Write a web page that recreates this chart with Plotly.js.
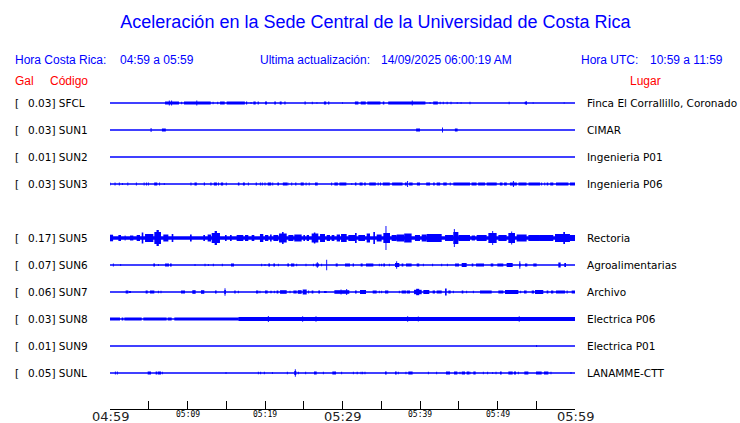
<!DOCTYPE html>
<html><head><meta charset="utf-8">
<script src="https://cdn.plot.ly/plotly-3.0.1.min.js"></script>
<style>html,body{margin:0;padding:0;background:#fff;overflow:hidden}#chart{width:740px;height:423px}</style>
</head><body><div id="chart"></div>
<script>
// ---------- data ----------
const stations = ['SFCL','SUN1','SUN2','SUN3','SUN5','SUN6','SUN7','SUN8','SUN9','SUNL'];
const peakGal  = ['0.03','0.03','0.01','0.03','0.17','0.07','0.06','0.03','0.01','0.05'];
const places   = ['Finca El Corrallillo, Coronado','CIMAR','Ingenieria P01','Ingenieria P06','Rectoria','Agroalimentarias','Archivo','Electrica P06','Electrica P01','LANAMME-CTT'];
const rowIndex = [0,1,2,3,5,6,7,8,9,10];
const tickMinutes = [0,5,10,15,20,25,30,35,40,45,50,55,60];
const labelMinutes = [0,10,20,30,40,50,60];
const labelTexts = ['04:59','05:09','05:19','05:29','05:39','05:49','05:59'];
const majorLabel = [true,false,false,true,false,false,true];

// bursts: [start minute, end minute, relative amplitude]
const burstsSFCL = [[7.1,8.9,1.5],[7.6,7.7,2.5],[7.9,8.0,2.5],[9.2,9.3,1.2],[9.55,13.0,1.5],[11.15,11.25,2.5],[13.3,13.3,1.2],[13.9,13.9,1.2],[14.2,14.8,1.5],[15.05,17.4,1.5],[17.55,17.7,1.5],[18.2,18.2,1],[18.5,18.8,1.5],[19.05,19.2,1.5],[20.0,20.26,1.5],[21.2,21.4,1.5],[21.9,22.15,1.5],[22.5,22.65,1.5],[25.1,25.25,1.5],[26.1,26.1,1.2],[26.7,26.7,0.8],[27.6,27.9,1.5],[28.15,28.3,1.5],[30.0,30.0,0.8],[31.6,32.05,1.5],[32.35,33.0,1.5],[33.2,34.9,1.5],[35.2,35.4,1.5],[35.9,40.7,1.5],[38.95,39.05,2.5],[41.3,41.3,1],[41.7,42.3,1.5],[42.6,42.6,1.2],[43.0,43.0,1.2],[43.5,43.5,1.2],[44.0,44.0,1.2],[44.8,44.8,0.8],[45.3,45.3,0.8],[46.45,46.45,1.2],[51.5,51.5,1.2],[53.5,53.8,1.2],[53.7,53.7,2],[54.6,54.6,0.8],[58.6,58.6,0.8]];
const burstsSUN1 = [[5.3,5.3,2],[6.7,7.2,1.5],[39.5,40.0,1.5],[42.9,42.9,2.5],[44.5,44.85,1.5]];
const burstsSUN2 = [];
const burstsSUN3 = [[0.0,0.0,1.5],[0.65,0.65,1.5],[1.2,1.2,1.5],[1.6,1.6,1],[2.3,2.3,1.5],[3.4,3.4,1.5],[4.4,4.4,1.5],[4.7,4.7,1.5],[4.95,4.95,1.5],[5.7,6.1,1.5],[6.4,6.4,1.5],[7.0,7.0,1],[10.45,10.45,1.5],[10.9,11.2,1.5],[12.1,12.25,1.5],[12.95,13.1,1.5],[13.4,13.8,1.5],[14.0,14.0,1.5],[14.3,14.6,1.5],[15.0,15.0,1.5],[16.5,16.7,1.5],[17.15,17.4,1.5],[17.85,17.85,1.5],[18.8,18.95,1.5],[19.4,19.4,1.5],[19.65,19.65,1.5],[20.0,20.0,1.5],[20.35,20.8,1.5],[21.0,21.0,1.5],[21.6,21.8,1.5],[22.3,22.85,1.5],[22.95,22.95,1.5],[23.45,23.45,1.5],[23.9,24.05,1.5],[24.6,25.0,1.5],[25.3,25.3,1.5],[25.7,25.7,1.5],[26.45,26.8,1.5],[28.6,28.6,1.5],[28.95,29.4,1.5],[29.6,30.5,1.5],[31.2,31.2,1],[31.6,31.8,1.5],[32.2,32.6,1.5],[32.8,33.0,1.5],[33.45,34.3,1.5],[34.6,34.6,1.5],[34.9,34.9,1.5],[35.2,36.1,1.5],[36.4,37.75,1.5],[38.05,38.3,1.5],[38.4,38.4,3],[38.6,39.05,1.5],[39.6,40.0,1.5],[40.8,41.3,1.5],[41.7,41.9,1.5],[42.15,42.6,1.5],[43.0,43.45,1.5],[43.9,43.9,1.5],[44.3,46.45,1.5],[46.65,47.3,1.5],[47.5,48.4,1.5],[48.6,49.9,1.5],[50.3,50.65,1.5],[50.85,51.2,1.5],[51.6,52.5,1.5],[52.05,52.05,3],[52.7,53.75,1.5],[54.0,55.5,1.5],[55.7,55.7,1.5],[56.1,56.1,1.5],[56.35,56.55,1.5],[56.8,57.2,1.5],[57.55,59.15,1.5],[59.35,60.0,1.5]];
const burstsSUN5 = [[0,60,1.7],[0.0,0.4,3.3],[1.08,1.42,3],[1.9,2.0,2.5],[2.58,3.01,2.5],[3.44,3.87,3],[4.09,4.3,5.5],[4.52,5.59,4],[5.72,6.58,6],[6.0,6.3,8],[6.88,7.53,3.5],[7.96,8.17,4],[10.32,10.54,3.5],[12.04,12.26,3],[12.6,13.03,3.5],[13.12,14.19,5],[13.5,13.8,7],[14.84,15.05,3],[15.48,15.7,3],[16.34,17.2,3],[17.42,17.85,3],[18.28,18.62,3],[19.35,19.78,4],[20.0,20.43,3],[20.65,20.86,3.5],[21.08,21.72,3],[21.81,22.8,4.5],[22.2,22.4,6],[23.01,23.66,3],[23.78,24.73,3.5],[24.95,25.16,3],[25.38,25.68,3],[26.02,26.88,4.5],[26.3,26.5,5.5],[27.1,27.74,4],[27.96,28.39,3],[28.6,28.95,3],[29.25,29.68,3.5],[29.81,30.54,4],[30.75,31.61,3],[31.61,31.83,5],[32.04,32.9,3],[33.12,33.55,4.5],[33.98,34.19,6],[34.41,35.05,3.5],[35.27,36.13,5],[35.55,35.67,12],[36.34,36.99,3],[36.99,37.96,3.5],[37.96,38.92,4.5],[39.35,40.0,3],[40.22,40.86,3.5],[40.86,42.8,4],[43.23,44.3,3],[44.3,44.95,6],[44.38,44.48,9],[44.95,46.45,3],[46.67,47.1,2.5],[47.31,48.6,3],[48.82,49.89,5],[49.33,49.43,7],[50.11,51.18,3],[51.4,52.26,5],[51.78,51.88,6.5],[52.47,53.76,3.5],[53.98,55.48,3],[55.48,57.2,3],[57.42,59.35,4],[58.49,58.71,6],[59.35,60.0,3]];
const burstsSUN6 = [[0.43,0.43,1.5],[1.38,1.38,1],[5.59,5.81,1.5],[6.24,6.24,1],[7.1,7.61,1.5],[7.74,7.96,1.5],[10.97,10.97,1],[12.26,12.26,1.3],[12.69,12.69,1],[13.33,13.33,1.3],[14.49,14.49,1.3],[15.61,16.0,1.5],[19.57,19.57,1.3],[20.0,20.0,1],[20.43,20.65,1.5],[21.08,21.29,1.5],[21.72,21.72,1.3],[22.88,23.1,1.5],[23.35,23.78,1.5],[24.09,24.09,1.2],[25.29,25.29,1.2],[26.24,26.24,1.2],[26.54,26.97,1.5],[26.7,26.8,2.8],[27.31,27.31,1.3],[27.96,27.96,5.3],[29.12,29.38,1.5],[30.32,30.97,1.5],[31.31,31.48,1.5],[32.34,32.6,1.5],[33.03,33.98,1.5],[34.75,34.75,1.2],[35.05,35.05,1.2],[35.27,35.48,1.5],[36.04,36.04,1.2],[36.77,37.33,2],[36.99,36.99,3.7],[37.63,37.85,1.5],[38.19,38.92,1.5],[39.57,39.91,1.5],[40.43,40.43,1.2],[41.63,41.63,1.2],[42.8,42.8,1.2],[43.53,43.53,1.2],[44.52,45.03,1.5],[45.38,46.02,2],[46.67,46.88,1.5],[47.23,48.26,1.5],[49.12,49.46,1.5],[49.98,50.75,1.5],[51.18,51.96,2],[52.77,52.99,1.5],[52.88,52.88,3.7],[53.55,53.85,1.5],[54.62,55.05,1.5],[57.85,58.15,2.5],[58.62,58.84,2]];
const burstsSUN7 = [[2.02,2.37,1.5],[2.45,2.71,1],[4.6,4.86,1.5],[5.16,5.72,1.5],[6.24,6.24,1.2],[6.58,6.58,1.2],[9.16,9.68,1.5],[10.62,11.05,1.8],[11.74,12.17,1.8],[13.55,13.76,1.5],[14.75,14.95,2],[14.84,14.84,3.8],[16.04,16.21,1.5],[16.56,16.56,1.2],[18.84,19.14,1.5],[19.35,19.35,1.2],[20.0,20.34,1.5],[20.69,20.86,1.2],[21.2,21.2,1.2],[21.5,21.72,1.5],[21.94,22.8,1.8],[23.23,23.23,1.2],[23.66,24.09,1.5],[24.22,24.73,1.8],[24.86,25.38,2.5],[25.59,25.68,1.5],[26.02,26.24,1.5],[26.88,27.1,1.5],[27.61,27.96,1],[28.95,30.88,1.8],[29.81,29.81,2.5],[30.54,30.54,3],[31.61,31.83,1.5],[32.26,33.03,2],[33.89,34.41,1.5],[34.75,34.75,1.2],[35.05,35.05,1.2],[35.48,35.91,1.5],[37.33,37.33,1.2],[37.63,38.19,1.5],[38.28,38.71,1.5],[39.23,40.22,2.2],[39.5,39.9,3.2],[40.43,41.2,2],[41.63,41.94,1.5],[42.15,42.8,1.5],[43.23,43.44,3.5],[43.66,43.96,1.5],[44.3,44.3,1.2],[45.38,45.59,1.5],[46.02,46.02,1.2],[46.88,46.88,1.2],[47.74,49.25,1.5],[50.11,50.75,1.5],[50.97,52.69,2],[52.99,52.99,1.2],[53.42,53.76,1.5],[54.41,54.71,1.5],[54.84,55.91,2],[56.34,56.56,1.5],[56.9,57.2,1.5],[57.55,58.71,1.5],[58.92,59.05,1.5],[59.57,60.0,1.5]];
const burstsSUN8 = [[0,1.29,1.5],[1.5,1.72,1.5],[1.85,4.09,1.5],[4.3,7.31,1.5],[7.44,7.96,1.5],[8.3,16.56,1.5],[16.56,60,2],[20.43,20.43,3],[24.86,24.86,2.8],[26.58,26.58,2.8],[38.41,38.41,2.7],[39.78,39.78,2.5],[52.8,52.8,2.7]];
const burstsSUN9 = [[55.05,55.05,1]];
const burstsSUNL = [[0.65,0.73,1.5],[0.9,0.99,1.5],[4.86,5.29,1.5],[5.89,6.06,1.5],[6.15,6.58,1.5],[6.75,6.75,1.2],[14.97,14.97,1],[19.14,19.14,1.2],[19.44,19.44,1.2],[19.91,19.91,1.2],[20.95,20.95,1],[22.88,22.88,1.2],[23.78,24.04,2],[23.91,23.91,3.8],[24.3,24.3,1.2],[25.25,25.25,1.2],[26.32,26.67,1.5],[27.53,27.53,1.2],[28.69,29.16,1.5],[29.89,29.89,1.2],[31.4,31.4,1.2],[31.83,31.96,1.2],[32.39,32.39,1.2],[32.6,32.6,1.2],[32.9,32.9,1.2],[35.48,35.7,1.5],[36.77,36.99,1.5],[37.2,37.2,1.2],[38.19,38.19,1.2],[38.49,39.05,1.5],[41.08,41.08,1.2],[42.15,42.15,1.2],[43.35,43.87,1.5],[44.39,44.82,1.5],[45.16,45.16,1.2],[45.38,45.81,1.5],[46.02,46.37,1.5],[46.45,46.45,1.2],[46.88,47.18,1.5],[48.17,48.17,1.2],[48.73,48.73,1.2],[49.38,49.38,1],[49.81,49.81,1.2],[50.32,50.54,1.5],[51.4,51.96,1.5],[52.13,52.39,1.5],[52.69,52.69,1.2],[53.46,53.98,1.5],[54.97,55.7,1.5],[56.0,56.56,1.5],[56.9,56.9,1.2],[59.48,59.48,1]];
const allBursts = [burstsSFCL,burstsSUN1,burstsSUN2,burstsSUN3,burstsSUN5,burstsSUN6,burstsSUN7,burstsSUN8,burstsSUN9,burstsSUNL];

// ---------- layout geometry ----------
const W = 740, H = 423;
const plotL = 110, plotR = 575, plotT = 90, plotB = 409;
const firstRowPx = 103, rowPx = 27;
const ampScale = 1 / rowPx;
const minWidth = 0.12;
const blue = '#0000ff', red = '#ff0000';
const px2paperX = px => (px - plotL) / (plotR - plotL);
const px2paperY = py => (plotB - py) / (plotB - plotT);

const traces = [];
rowIndex.forEach((row, i) => {
  traces.push({type:'scatter', mode:'lines', x:[0,60], y:[row,row],
    line:{color:blue, width:1.3}, hoverinfo:'skip'});
});
rowIndex.forEach((row, i) => {
  const b = allBursts[i];
  if (!b.length) return;
  const x=[], w=[], base=[], h=[];
  b.forEach(([t0,t1,a]) => {
    x.push((t0+t1)/2); w.push(Math.max(t1-t0, minWidth));
    base.push(row - a*ampScale); h.push(2*a*ampScale);
  });
  traces.push({type:'bar', x:x, y:h, base:base, width:w,
    marker:{color:blue, line:{width:0}}, hoverinfo:'skip'});
});

const ann = [];
const lab = {family:'DejaVu Sans', size:10.5, color:'#000'};
rowIndex.forEach((row, i) => {
  ann.push({xref:'paper', yref:'y', x:px2paperX(13), y:row, xanchor:'left', yanchor:'middle', text:'[', showarrow:false, font:lab});
  ann.push({xref:'paper', yref:'y', x:px2paperX(25.5), y:row, xanchor:'left', yanchor:'middle', text:peakGal[i]+'] '+stations[i], showarrow:false, font:lab});
  ann.push({xref:'paper', yref:'y', x:px2paperX(585), y:row, xanchor:'left', yanchor:'middle', text:places[i], showarrow:false, font:lab});
});
const hf = {family:'Liberation Sans, Arial, sans-serif', size:12, color:blue};
const rf = {family:'Liberation Sans, Arial, sans-serif', size:12, color:red};
const hdr = [
  ['Hora Costa Rica:',13,60,hf],['04:59 a 05:59',118,60,hf],
  ['Ultima actualización:',258,60,hf],['14/09/2025 06:00:19 AM',379,60,hf],
  ['Hora UTC:',578.5,60,hf],['10:59 a 11:59',648,60,hf],
  ['Gal',13,80.5,rf],['Código',48,80.5,rf],['Lugar',628,80.5,rf]
];
hdr.forEach(([t,x,y,f]) => ann.push({xref:'paper', yref:'paper', x:px2paperX(x), y:px2paperY(y), xanchor:'left', yanchor:'middle', text:t, showarrow:false, font:f}));
labelMinutes.forEach((m, i) => {
  const big = majorLabel[i];
  ann.push({xref:'x', yref:'paper', x:m, y:px2paperY(big?416:414.5), xanchor:'center', yanchor:'middle', text:labelTexts[i], showarrow:false,
    font:{family:big?'DejaVu Sans':'DejaVu Sans Mono', size:big?13:8, color:big?'#222':'#000'}});
});

const layout = {
  width:W, height:H, margin:{l:plotL, r:W-plotR, t:plotT, b:H-plotB, pad:0},
  paper_bgcolor:'#fff', plot_bgcolor:'#fff', showlegend:false, barmode:'overlay',
  title:{text:'Aceleración en la Sede Central de la Universidad de Costa Rica', x:375.5/W, xref:'container', xanchor:'center', y:1-22/H, yanchor:'middle',
    font:{family:'Liberation Sans, Arial, sans-serif', size:18, color:blue}},
  xaxis:{range:[0,60], tickvals:tickMinutes, ticks:'inside', ticklen:8, tickwidth:1, tickcolor:'#000',
    showticklabels:false, showline:true, linecolor:'#000', linewidth:1, showgrid:false, zeroline:false, fixedrange:true},
  yaxis:{range:[(plotB-firstRowPx)/rowPx, -(firstRowPx-plotT)/rowPx], visible:false, fixedrange:true},
  annotations:ann
};
Plotly.newPlot('chart', traces, layout, {staticPlot:true, displayModeBar:false});
</script></body></html>
